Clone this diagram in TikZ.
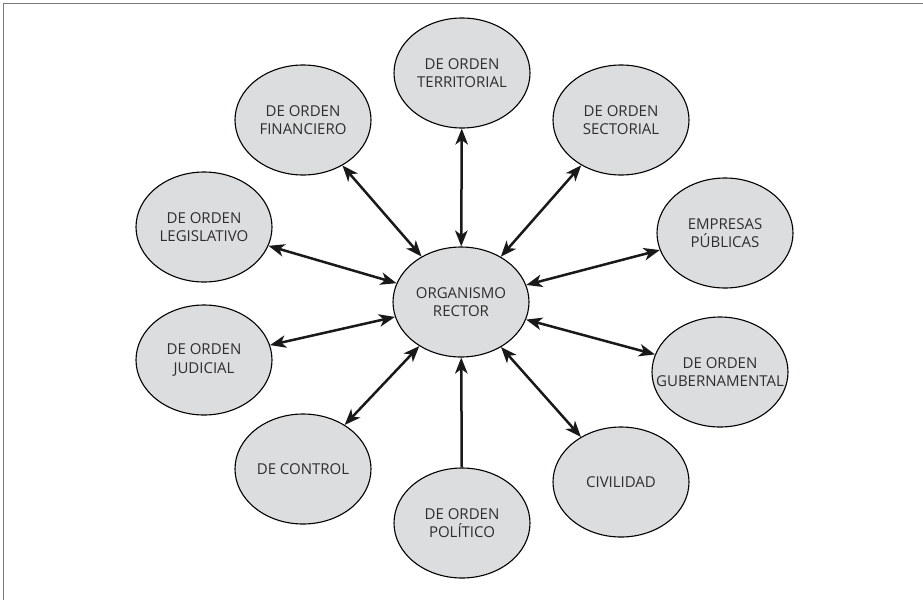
\documentclass[tikz,border=0pt]{standalone}
\usepackage{fontspec}
\setmainfont{Open Sans}
\usetikzlibrary{arrows.meta,shapes.geometric}
\definecolor{bubblefill}{HTML}{DCDDDF}
\definecolor{inkgray}{HTML}{2E2E2E}
\definecolor{framegray}{HTML}{7A7A7A}
\begin{document}
\begin{tikzpicture}[x=1pt,y=-1pt,
  bubble/.style={ellipse, draw=black, line width=1.1pt, fill=bubblefill,
    minimum width=136pt, minimum height=110pt, inner sep=0pt},
  txt/.style={align=center, text=inkgray, inner sep=0pt,
    font=\fontsize{15}{18.5}\selectfont},
  link/.style={line width=2.5pt, draw=black!90,
    {Stealth[length=16pt,width=12.5pt,inset=4.5pt]}-{Stealth[length=16pt,width=12.5pt,inset=4.5pt]}},
  onelink/.style={line width=2.5pt, draw=black!90,
    -{Stealth[length=16pt,width=12.5pt,inset=4.5pt]}}]
\useasboundingbox (0,0) rectangle (923,600);

% outer frame (top and left edges)
\draw[framegray, line width=1.6pt] (3.5,600) -- (3.5,3.5) -- (923,3.5);

% central body
\node[bubble, label={[txt]center:ORGANISMO\\RECTOR}] (c) at (461,302) {};

% surrounding bodies
\node[bubble, label={[txt]center:DE ORDEN\\TERRITORIAL}] (ter) at (462,73) {};
\node[bubble, label={[txt]center:DE ORDEN\\FINANCIERO}] (fin) at (303,120) {};
\node[bubble, label={[txt]center:DE ORDEN\\SECTORIAL}] (sec) at (621,120) {};
\node[bubble, label={[txt]center:DE ORDEN\\LEGISLATIVO}] (leg) at (204,227) {};
\node[bubble, label={[txt]center:EMPRESAS\\PÚBLICAS}] (emp) at (725,233) {};
\node[bubble, label={[txt]center:DE ORDEN\\JUDICIAL}] (jud) at (204,360) {};
\node[bubble, label={[txt]center:DE ORDEN\\GUBERNAMENTAL}] (gub) at (720,372) {};
\node[bubble, label={[txt]center:DE CONTROL}] (con) at (303,469) {};
\node[bubble, label={[txt]center:CIVILIDAD}] (civ) at (621,482) {};
\node[bubble, label={[txt]center:DE ORDEN\\POLÍTICO}] (pol) at (462,523) {};

% connectors
\draw[link] (c) -- (ter);
\draw[link] (c) -- (fin);
\draw[link] (c) -- (sec);
\draw[link] (c) -- (leg);
\draw[link] (c) -- (emp);
\draw[link] (c) -- (jud);
\draw[link] (c) -- (gub);
\draw[link] (c) -- (con);
\draw[link] (c) -- (civ);
\draw[onelink] (pol) -- (c);
\end{tikzpicture}
\end{document}
